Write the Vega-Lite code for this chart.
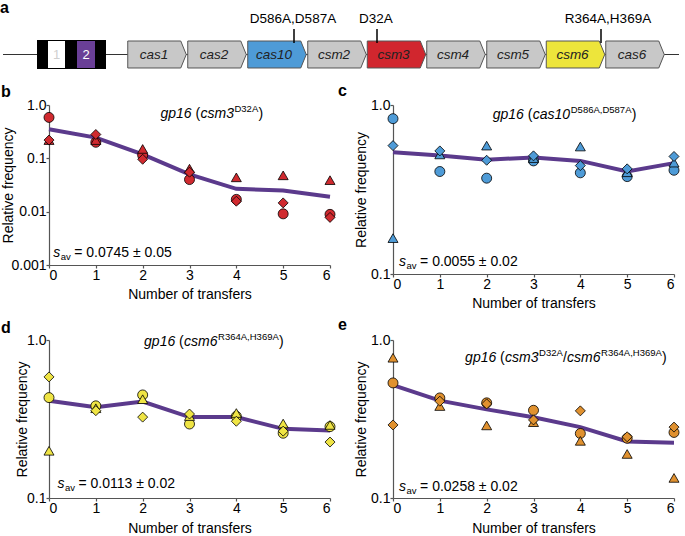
{
  "$schema": "https://vega.github.io/schema/vega-lite/v6.json",
  "padding": {"left": -3, "top": 0, "right": 0, "bottom": 0},
  "background": "white",
  "config": {
    "view": {"stroke": null},
    "font": "Liberation Sans",
    "axis": {"domainColor": "#555", "tickColor": "#555", "labelColor": "black", "titleColor": "black", "labelFontSize": 14, "titleFontSize": 14, "titleFontWeight": "normal", "grid": false, "tickSize": 3, "labelPadding": 0, "domainWidth": 1.2, "tickWidth": 1.2},
    "title": {"font": "Liberation Sans"}
  },
  "datasets": {
    "pts": [
      {"panel": "b", "transfer": 0, "rep": "circle", "value": 0.585}, {"panel": "b", "transfer": 0, "rep": "triangle", "value": 0.22}, {"panel": "b", "transfer": 0, "rep": "diamond", "value": 0.22},
      {"panel": "b", "transfer": 1, "rep": "circle", "value": 0.2}, {"panel": "b", "transfer": 1, "rep": "triangle", "value": 0.22}, {"panel": "b", "transfer": 1, "rep": "diamond", "value": 0.28},
      {"panel": "b", "transfer": 2, "rep": "circle", "value": 0.114}, {"panel": "b", "transfer": 2, "rep": "triangle", "value": 0.15}, {"panel": "b", "transfer": 2, "rep": "diamond", "value": 0.096},
      {"panel": "b", "transfer": 3, "rep": "circle", "value": 0.04}, {"panel": "b", "transfer": 3, "rep": "triangle", "value": 0.064}, {"panel": "b", "transfer": 3, "rep": "diamond", "value": 0.055},
      {"panel": "b", "transfer": 4, "rep": "circle", "value": 0.017}, {"panel": "b", "transfer": 4, "rep": "triangle", "value": 0.044}, {"panel": "b", "transfer": 4, "rep": "diamond", "value": 0.0157},
      {"panel": "b", "transfer": 5, "rep": "circle", "value": 0.0091}, {"panel": "b", "transfer": 5, "rep": "triangle", "value": 0.048}, {"panel": "b", "transfer": 5, "rep": "diamond", "value": 0.0146},
      {"panel": "b", "transfer": 6, "rep": "circle", "value": 0.0089}, {"panel": "b", "transfer": 6, "rep": "triangle", "value": 0.039}, {"panel": "b", "transfer": 6, "rep": "diamond", "value": 0.0078},
      {"panel": "c", "transfer": 0, "rep": "circle", "value": 0.83}, {"panel": "c", "transfer": 0, "rep": "triangle", "value": 0.163}, {"panel": "c", "transfer": 0, "rep": "diamond", "value": 0.575},
      {"panel": "c", "transfer": 1, "rep": "circle", "value": 0.404}, {"panel": "c", "transfer": 1, "rep": "triangle", "value": 0.51}, {"panel": "c", "transfer": 1, "rep": "diamond", "value": 0.535},
      {"panel": "c", "transfer": 2, "rep": "circle", "value": 0.369}, {"panel": "c", "transfer": 2, "rep": "triangle", "value": 0.575}, {"panel": "c", "transfer": 2, "rep": "diamond", "value": 0.471},
      {"panel": "c", "transfer": 3, "rep": "circle", "value": 0.467}, {"panel": "c", "transfer": 3, "rep": "triangle", "value": 0.485}, {"panel": "c", "transfer": 3, "rep": "diamond", "value": 0.5},
      {"panel": "c", "transfer": 4, "rep": "circle", "value": 0.397}, {"panel": "c", "transfer": 4, "rep": "triangle", "value": 0.568}, {"panel": "c", "transfer": 4, "rep": "diamond", "value": 0.438},
      {"panel": "c", "transfer": 5, "rep": "circle", "value": 0.377}, {"panel": "c", "transfer": 5, "rep": "triangle", "value": 0.4}, {"panel": "c", "transfer": 5, "rep": "diamond", "value": 0.419},
      {"panel": "c", "transfer": 6, "rep": "circle", "value": 0.411}, {"panel": "c", "transfer": 6, "rep": "triangle", "value": 0.456}, {"panel": "c", "transfer": 6, "rep": "diamond", "value": 0.496},
      {"panel": "d", "transfer": 0, "rep": "circle", "value": 0.432}, {"panel": "d", "transfer": 0, "rep": "triangle", "value": 0.199}, {"panel": "d", "transfer": 0, "rep": "diamond", "value": 0.584},
      {"panel": "d", "transfer": 1, "rep": "circle", "value": 0.383}, {"panel": "d", "transfer": 1, "rep": "triangle", "value": 0.37}, {"panel": "d", "transfer": 1, "rep": "diamond", "value": 0.357},
      {"panel": "d", "transfer": 2, "rep": "circle", "value": 0.449}, {"panel": "d", "transfer": 2, "rep": "triangle", "value": 0.422}, {"panel": "d", "transfer": 2, "rep": "diamond", "value": 0.325},
      {"panel": "d", "transfer": 3, "rep": "circle", "value": 0.294}, {"panel": "d", "transfer": 3, "rep": "triangle", "value": 0.33}, {"panel": "d", "transfer": 3, "rep": "diamond", "value": 0.34},
      {"panel": "d", "transfer": 4, "rep": "circle", "value": 0.329}, {"panel": "d", "transfer": 4, "rep": "triangle", "value": 0.345}, {"panel": "d", "transfer": 4, "rep": "diamond", "value": 0.306},
      {"panel": "d", "transfer": 5, "rep": "circle", "value": 0.257}, {"panel": "d", "transfer": 5, "rep": "triangle", "value": 0.296}, {"panel": "d", "transfer": 5, "rep": "diamond", "value": 0.265},
      {"panel": "d", "transfer": 6, "rep": "circle", "value": 0.283}, {"panel": "d", "transfer": 6, "rep": "triangle", "value": 0.29}, {"panel": "d", "transfer": 6, "rep": "diamond", "value": 0.226},
      {"panel": "e", "transfer": 0, "rep": "circle", "value": 0.535}, {"panel": "e", "transfer": 0, "rep": "triangle", "value": 0.772}, {"panel": "e", "transfer": 0, "rep": "diamond", "value": 0.29},
      {"panel": "e", "transfer": 1, "rep": "circle", "value": 0.43}, {"panel": "e", "transfer": 1, "rep": "triangle", "value": 0.382}, {"panel": "e", "transfer": 1, "rep": "diamond", "value": 0.41},
      {"panel": "e", "transfer": 2, "rep": "circle", "value": 0.4}, {"panel": "e", "transfer": 2, "rep": "triangle", "value": 0.288}, {"panel": "e", "transfer": 2, "rep": "diamond", "value": 0.394},
      {"panel": "e", "transfer": 3, "rep": "circle", "value": 0.359}, {"panel": "e", "transfer": 3, "rep": "triangle", "value": 0.302}, {"panel": "e", "transfer": 3, "rep": "diamond", "value": 0.312},
      {"panel": "e", "transfer": 4, "rep": "circle", "value": 0.256}, {"panel": "e", "transfer": 4, "rep": "triangle", "value": 0.23}, {"panel": "e", "transfer": 4, "rep": "diamond", "value": 0.356},
      {"panel": "e", "transfer": 5, "rep": "circle", "value": 0.239}, {"panel": "e", "transfer": 5, "rep": "triangle", "value": 0.19}, {"panel": "e", "transfer": 5, "rep": "diamond", "value": 0.244},
      {"panel": "e", "transfer": 6, "rep": "circle", "value": 0.26}, {"panel": "e", "transfer": 6, "rep": "triangle", "value": 0.134}, {"panel": "e", "transfer": 6, "rep": "diamond", "value": 0.281}
    ],
    "avg": [
      {"panel": "b", "transfer": 0, "value": 0.352}, {"panel": "b", "transfer": 1, "value": 0.245}, {"panel": "b", "transfer": 2, "value": 0.119}, {"panel": "b", "transfer": 3, "value": 0.05}, {"panel": "b", "transfer": 4, "value": 0.0268}, {"panel": "b", "transfer": 5, "value": 0.025}, {"panel": "b", "transfer": 6, "value": 0.019},
      {"panel": "c", "transfer": 0, "value": 0.525}, {"panel": "c", "transfer": 1, "value": 0.502}, {"panel": "c", "transfer": 2, "value": 0.475}, {"panel": "c", "transfer": 3, "value": 0.489}, {"panel": "c", "transfer": 4, "value": 0.467}, {"panel": "c", "transfer": 5, "value": 0.404}, {"panel": "c", "transfer": 6, "value": 0.453},
      {"panel": "d", "transfer": 0, "value": 0.412}, {"panel": "d", "transfer": 1, "value": 0.376}, {"panel": "d", "transfer": 2, "value": 0.408}, {"panel": "d", "transfer": 3, "value": 0.325}, {"panel": "d", "transfer": 4, "value": 0.325}, {"panel": "d", "transfer": 5, "value": 0.274}, {"panel": "d", "transfer": 6, "value": 0.267},
      {"panel": "e", "transfer": 0, "value": 0.518}, {"panel": "e", "transfer": 1, "value": 0.413}, {"panel": "e", "transfer": 2, "value": 0.364}, {"panel": "e", "transfer": 3, "value": 0.324}, {"panel": "e", "transfer": 4, "value": 0.281}, {"panel": "e", "transfer": 5, "value": 0.228}, {"panel": "e", "transfer": 6, "value": 0.224}
    ],
    "genes": [
      {"gene": "cas1", "center": 160, "type": "other"}, {"gene": "cas2", "center": 220, "type": "other"}, {"gene": "cas10", "center": 280, "type": "cas10"},
      {"gene": "csm2", "center": 340, "type": "other"}, {"gene": "csm3", "center": 399.5, "type": "csm3"}, {"gene": "csm4", "center": 459, "type": "other"},
      {"gene": "csm5", "center": 519, "type": "other"}, {"gene": "csm6", "center": 578.5, "type": "csm6"}, {"gene": "cas6", "center": 638, "type": "other"}
    ],
    "mutations": [
      {"gene": "cas10", "label": "D586A,D587A", "site": 297, "labelpos": 296},
      {"gene": "csm3", "label": "D32A", "site": 380, "labelpos": 379},
      {"gene": "csm6", "label": "R364A,H369A", "site": 604, "labelpos": 611}
    ],
    "backbone": [{"start": 6, "end": 682}],
    "array": [{"start": 40, "end": 109}],
    "spacers": [{"spacer": "1", "start": 51, "end": 68, "center": 59.5}, {"spacer": "2", "start": 80, "end": 98, "center": 89}]
  },
  "columns": 2,
  "bounds": "flush",
  "align": "each",
  "spacing": {"row": 66, "column": 63},
  "concat": [
    {
      "width": 281, "height": 39,
      "resolve": {"scale": {"color": "independent", "fill": "independent"}},
      "layer": [
        {"data": {"values": [{"start": 0, "end": 685}]}, "mark": {"type": "rule", "opacity": 0, "strokeWidth": 0.1},
         "encoding": {"x": {"field": "start", "type": "quantitative", "scale": {"domain": [52, 333], "nice": false, "zero": false}, "axis": null}, "x2": {"field": "end"}, "y": {"datum": 0, "scale": {"domain": [0, 39], "reverse": true, "nice": false, "zero": false}, "axis": null}}},
        {"data": {"name": "backbone"}, "mark": {"type": "rule", "color": "#333", "strokeWidth": 1.2},
         "encoding": {"x": {"field": "start", "type": "quantitative", "scale": {"domain": [52, 333], "nice": false, "zero": false}, "axis": null}, "x2": {"field": "end"}, "y": {"datum": 54.5, "scale": {"domain": [0, 39], "reverse": true, "nice": false, "zero": false}, "axis": null}}},
        {"data": {"name": "array"}, "mark": {"type": "rect", "color": "black"},
         "encoding": {"x": {"field": "start", "type": "quantitative", "scale": {"domain": [52, 333], "nice": false, "zero": false}, "axis": null}, "x2": {"field": "end"}, "y": {"datum": 40, "scale": {"domain": [0, 39], "reverse": true, "nice": false, "zero": false}, "axis": null}, "y2": {"datum": 69}}},
        {"data": {"name": "spacers"}, "mark": {"type": "rect"},
         "encoding": {"x": {"field": "start", "type": "quantitative", "scale": {"domain": [52, 333], "nice": false, "zero": false}, "axis": null}, "x2": {"field": "end"}, "y": {"datum": 41, "scale": {"domain": [0, 39], "reverse": true, "nice": false, "zero": false}, "axis": null}, "y2": {"datum": 68},
           "color": {"field": "spacer", "type": "nominal", "scale": {"domain": ["1", "2"], "range": ["#ffffff", "#6a3f97"]}, "legend": null}}},
        {"data": {"name": "spacers"}, "mark": {"type": "text", "fontSize": 13, "baseline": "middle", "align": "center"},
         "encoding": {"x": {"field": "center", "type": "quantitative", "scale": {"domain": [52, 333], "nice": false, "zero": false}, "axis": null}, "y": {"datum": 55, "scale": {"domain": [0, 39], "reverse": true, "nice": false, "zero": false}, "axis": null}, "text": {"field": "spacer"},
           "fill": {"field": "spacer", "type": "nominal", "scale": {"domain": ["1", "2"], "range": ["#cfcfcf", "#ffffff"]}, "legend": null}}},
        {"data": {"name": "genes"}, "mark": {"type": "point", "shape": "M-1,-0.4615L0.812,-0.4615L1,0L0.812,0.4615L-1,0.4615Z", "size": 3422, "opacity": 1, "filled": true, "stroke": "#555", "strokeWidth": 1},
         "encoding": {"x": {"field": "center", "type": "quantitative", "scale": {"domain": [52, 333], "nice": false, "zero": false}, "axis": null}, "y": {"datum": 54.5, "scale": {"domain": [0, 39], "reverse": true, "nice": false, "zero": false}, "axis": null},
           "color": {"field": "type", "type": "nominal", "scale": {"domain": ["other", "cas10", "csm3", "csm6"], "range": ["#c8c8c8", "#4e9bd7", "#d1262e", "#ede53b"]}, "legend": null}}},
        {"data": {"name": "genes"}, "mark": {"type": "text", "fontSize": 13.5, "fontStyle": "italic", "baseline": "middle", "align": "center", "dx": -3, "color": "#222"},
         "encoding": {"x": {"field": "center", "type": "quantitative", "scale": {"domain": [52, 333], "nice": false, "zero": false}, "axis": null}, "y": {"datum": 55, "scale": {"domain": [0, 39], "reverse": true, "nice": false, "zero": false}, "axis": null}, "text": {"field": "gene"}}},
        {"data": {"name": "mutations"}, "mark": {"type": "rule", "color": "black", "strokeWidth": 1.5},
         "encoding": {"x": {"field": "site", "type": "quantitative", "scale": {"domain": [52, 333], "nice": false, "zero": false}, "axis": null}, "y": {"datum": 29, "scale": {"domain": [0, 39], "reverse": true, "nice": false, "zero": false}, "axis": null}, "y2": {"datum": 43}}},
        {"data": {"name": "mutations"}, "mark": {"type": "text", "fontSize": 13.5, "baseline": "alphabetic", "align": "center", "color": "black"},
         "encoding": {"x": {"field": "labelpos", "type": "quantitative", "scale": {"domain": [52, 333], "nice": false, "zero": false}, "axis": null}, "y": {"datum": 23, "scale": {"domain": [0, 39], "reverse": true, "nice": false, "zero": false}, "axis": null}, "text": {"field": "label"}}},
        {"data": {"values": [{"letter": "a"}]}, "mark": {"type": "text", "fontSize": 16, "fontWeight": "bold", "baseline": "alphabetic", "align": "left", "color": "black"},
         "encoding": {"x": {"datum": 3, "type": "quantitative", "scale": {"domain": [52, 333], "nice": false, "zero": false}, "axis": null}, "y": {"datum": 13, "scale": {"domain": [0, 39], "reverse": true, "nice": false, "zero": false}, "axis": null}, "text": {"field": "letter"}}}
      ]
    },
    {"width": 281, "height": 39, "data": {"values": []}, "mark": "point"},
    {
      "width": 281, "height": 160,
      "layer": [
        {"data": {"name": "avg"}, "transform": [{"filter": "datum.panel == 'b'"}], "mark": {"type": "line", "color": "#5b3a8c", "strokeWidth": 4},
         "encoding": {
           "x": {"field": "transfer", "type": "quantitative", "scale": {"domain": [0, 6], "nice": false, "zero": false}, "axis": {"values": [0, 1, 2, 3, 4, 5, 6], "format": "d", "labelAngle": 0, "title": "Number of transfers", "titlePadding": 5}},
           "y": {"field": "value", "type": "quantitative", "scale": {"type": "log", "domain": [0.001, 1], "nice": false}, "axis": {"values": [0.001, 0.01, 0.1, 1], "labelExpr": "datum.value >= 1 ? '1.0' : toString(datum.value)", "title": "Relative frequency", "titleX": -41, "titleY": 80, "titleAngle": 270, "titleBaseline": "middle", "titleAlign": "center"}}}},
        {"data": {"name": "pts"}, "transform": [{"filter": "datum.panel == 'b'"}], "mark": {"type": "point", "filled": true, "fill": "#d02a2f", "stroke": "black", "strokeWidth": 0.8, "size": 100, "opacity": 1},
         "encoding": {"x": {"field": "transfer", "type": "quantitative"}, "y": {"field": "value", "type": "quantitative"},
           "shape": {"field": "rep", "type": "nominal", "scale": {"domain": ["circle", "triangle", "diamond"], "range": ["circle", "triangle-up", "diamond"]}, "legend": null}}},
        {"data": {"values": [{}]}, "mark": {"type": "text", "text": "b", "fontSize": 16, "fontWeight": "bold", "align": "left", "baseline": "alphabetic"}, "encoding": {"x": {"datum": -1.025}, "y": {"datum": 1.41}}},
        {"data": {"values": [{}]}, "mark": {"type": "text", "text": "gp16", "fontSize": 14, "fontStyle": "italic", "align": "left", "baseline": "alphabetic"}, "encoding": {"x": {"datum": 2.38}, "y": {"datum": 0.56}}},
        {"data": {"values": [{}]}, "mark": {"type": "text", "text": "(", "fontSize": 14, "align": "left", "baseline": "alphabetic", "dx": 35}, "encoding": {"x": {"datum": 2.38}, "y": {"datum": 0.56}}},
        {"data": {"values": [{}]}, "mark": {"type": "text", "text": "csm3", "fontSize": 14, "fontStyle": "italic", "align": "left", "baseline": "alphabetic", "dx": 40}, "encoding": {"x": {"datum": 2.38}, "y": {"datum": 0.56}}},
        {"data": {"values": [{}]}, "mark": {"type": "text", "text": "D32A", "fontSize": 9.5, "align": "left", "baseline": "alphabetic", "dx": 74, "dy": -6}, "encoding": {"x": {"datum": 2.38}, "y": {"datum": 0.56}}},
        {"data": {"values": [{}]}, "mark": {"type": "text", "text": ")", "fontSize": 14, "align": "left", "baseline": "alphabetic", "dx": 98}, "encoding": {"x": {"datum": 2.38}, "y": {"datum": 0.56}}},
        {"data": {"values": [{}]}, "mark": {"type": "text", "text": "s", "fontSize": 14, "fontStyle": "italic", "align": "left", "baseline": "alphabetic"}, "encoding": {"x": {"datum": 0.09}, "y": {"datum": 0.00144}}},
        {"data": {"values": [{}]}, "mark": {"type": "text", "text": "av", "fontSize": 9.5, "align": "left", "baseline": "alphabetic", "dx": 7.5, "dy": 3}, "encoding": {"x": {"datum": 0.09}, "y": {"datum": 0.00144}}},
        {"data": {"values": [{}]}, "mark": {"type": "text", "text": "= 0.0745 ± 0.05", "fontSize": 14, "align": "left", "baseline": "alphabetic", "dx": 21}, "encoding": {"x": {"datum": 0.09}, "y": {"datum": 0.00144}}}
      ]
    },
    {
      "width": 281, "height": 169,
      "layer": [
        {"data": {"name": "avg"}, "transform": [{"filter": "datum.panel == 'c'"}], "mark": {"type": "line", "color": "#5b3a8c", "strokeWidth": 4},
         "encoding": {
           "x": {"field": "transfer", "type": "quantitative", "scale": {"domain": [0, 6], "nice": false, "zero": false}, "axis": {"values": [0, 1, 2, 3, 4, 5, 6], "format": "d", "labelAngle": 0, "title": "Number of transfers", "titlePadding": 5}},
           "y": {"field": "value", "type": "quantitative", "scale": {"type": "log", "domain": [0.1, 1], "nice": false}, "axis": {"values": [0.1, 1], "labelExpr": "datum.value >= 1 ? '1.0' : toString(datum.value)", "title": "Relative frequency", "titleX": -32, "titleY": 84.5, "titleAngle": 270, "titleBaseline": "middle", "titleAlign": "center"}}}},
        {"data": {"name": "pts"}, "transform": [{"filter": "datum.panel == 'c'"}], "mark": {"type": "point", "filled": true, "fill": "#4e9bd7", "stroke": "black", "strokeWidth": 0.8, "size": 100, "opacity": 1},
         "encoding": {"x": {"field": "transfer", "type": "quantitative"}, "y": {"field": "value", "type": "quantitative"},
           "shape": {"field": "rep", "type": "nominal", "scale": {"domain": ["circle", "triangle", "diamond"], "range": ["circle", "triangle-up", "diamond"]}, "legend": null}}},
        {"data": {"values": [{}]}, "mark": {"type": "text", "text": "c", "fontSize": 16, "fontWeight": "bold", "align": "left", "baseline": "alphabetic"}, "encoding": {"x": {"datum": -1.175}, "y": {"datum": 1.13}}},
        {"data": {"values": [{}]}, "mark": {"type": "text", "text": "gp16", "fontSize": 14, "fontStyle": "italic", "align": "left", "baseline": "alphabetic"}, "encoding": {"x": {"datum": 2.13}, "y": {"datum": 0.83}}},
        {"data": {"values": [{}]}, "mark": {"type": "text", "text": "(", "fontSize": 14, "align": "left", "baseline": "alphabetic", "dx": 35}, "encoding": {"x": {"datum": 2.13}, "y": {"datum": 0.83}}},
        {"data": {"values": [{}]}, "mark": {"type": "text", "text": "cas10", "fontSize": 14, "fontStyle": "italic", "align": "left", "baseline": "alphabetic", "dx": 40}, "encoding": {"x": {"datum": 2.13}, "y": {"datum": 0.83}}},
        {"data": {"values": [{}]}, "mark": {"type": "text", "text": "D586A,D587A", "fontSize": 9.5, "align": "left", "baseline": "alphabetic", "dx": 78, "dy": -6}, "encoding": {"x": {"datum": 2.13}, "y": {"datum": 0.83}}},
        {"data": {"values": [{}]}, "mark": {"type": "text", "text": ")", "fontSize": 14, "align": "left", "baseline": "alphabetic", "dx": 139}, "encoding": {"x": {"datum": 2.13}, "y": {"datum": 0.83}}},
        {"data": {"values": [{}]}, "mark": {"type": "text", "text": "s", "fontSize": 14, "fontStyle": "italic", "align": "left", "baseline": "alphabetic"}, "encoding": {"x": {"datum": 0.13}, "y": {"datum": 0.111}}},
        {"data": {"values": [{}]}, "mark": {"type": "text", "text": "av", "fontSize": 9.5, "align": "left", "baseline": "alphabetic", "dx": 7.5, "dy": 3}, "encoding": {"x": {"datum": 0.13}, "y": {"datum": 0.111}}},
        {"data": {"values": [{}]}, "mark": {"type": "text", "text": "= 0.0055 ± 0.02", "fontSize": 14, "align": "left", "baseline": "alphabetic", "dx": 21}, "encoding": {"x": {"datum": 0.13}, "y": {"datum": 0.111}}}
      ]
    },
    {
      "width": 281, "height": 158,
      "layer": [
        {"data": {"name": "avg"}, "transform": [{"filter": "datum.panel == 'd'"}], "mark": {"type": "line", "color": "#5b3a8c", "strokeWidth": 4},
         "encoding": {
           "x": {"field": "transfer", "type": "quantitative", "scale": {"domain": [0, 6], "nice": false, "zero": false}, "axis": {"values": [0, 1, 2, 3, 4, 5, 6], "format": "d", "labelAngle": 0, "title": "Number of transfers", "titlePadding": 6}},
           "y": {"field": "value", "type": "quantitative", "scale": {"type": "log", "domain": [0.1, 1], "nice": false}, "axis": {"values": [0.1, 1], "labelExpr": "datum.value >= 1 ? '1.0' : toString(datum.value)", "title": "Relative frequency", "titleX": -27, "titleY": 79, "titleAngle": 270, "titleBaseline": "middle", "titleAlign": "center"}}}},
        {"data": {"name": "pts"}, "transform": [{"filter": "datum.panel == 'd'"}], "mark": {"type": "point", "filled": true, "fill": "#efe444", "stroke": "black", "strokeWidth": 0.8, "size": 100, "opacity": 1},
         "encoding": {"x": {"field": "transfer", "type": "quantitative"}, "y": {"field": "value", "type": "quantitative"},
           "shape": {"field": "rep", "type": "nominal", "scale": {"domain": ["circle", "triangle", "diamond"], "range": ["circle", "triangle-up", "diamond"]}, "legend": null}}},
        {"data": {"values": [{}]}, "mark": {"type": "text", "text": "d", "fontSize": 16, "fontWeight": "bold", "align": "left", "baseline": "alphabetic"}, "encoding": {"x": {"datum": -1.025}, "y": {"datum": 1.107}}},
        {"data": {"values": [{}]}, "mark": {"type": "text", "text": "gp16", "fontSize": 14, "fontStyle": "italic", "align": "left", "baseline": "alphabetic"}, "encoding": {"x": {"datum": 2.03}, "y": {"datum": 0.91}}},
        {"data": {"values": [{}]}, "mark": {"type": "text", "text": "(", "fontSize": 14, "align": "left", "baseline": "alphabetic", "dx": 35}, "encoding": {"x": {"datum": 2.03}, "y": {"datum": 0.91}}},
        {"data": {"values": [{}]}, "mark": {"type": "text", "text": "csm6", "fontSize": 14, "fontStyle": "italic", "align": "left", "baseline": "alphabetic", "dx": 40}, "encoding": {"x": {"datum": 2.03}, "y": {"datum": 0.91}}},
        {"data": {"values": [{}]}, "mark": {"type": "text", "text": "R364A,H369A", "fontSize": 9.5, "align": "left", "baseline": "alphabetic", "dx": 74, "dy": -6}, "encoding": {"x": {"datum": 2.03}, "y": {"datum": 0.91}}},
        {"data": {"values": [{}]}, "mark": {"type": "text", "text": ")", "fontSize": 14, "align": "left", "baseline": "alphabetic", "dx": 135}, "encoding": {"x": {"datum": 2.03}, "y": {"datum": 0.91}}},
        {"data": {"values": [{}]}, "mark": {"type": "text", "text": "s", "fontSize": 14, "fontStyle": "italic", "align": "left", "baseline": "alphabetic"}, "encoding": {"x": {"datum": 0.18}, "y": {"datum": 0.116}}},
        {"data": {"values": [{}]}, "mark": {"type": "text", "text": "av", "fontSize": 9.5, "align": "left", "baseline": "alphabetic", "dx": 7.5, "dy": 3}, "encoding": {"x": {"datum": 0.18}, "y": {"datum": 0.116}}},
        {"data": {"values": [{}]}, "mark": {"type": "text", "text": "= 0.0113 ± 0.02", "fontSize": 14, "align": "left", "baseline": "alphabetic", "dx": 21}, "encoding": {"x": {"datum": 0.18}, "y": {"datum": 0.116}}}
      ]
    },
    {
      "width": 281, "height": 158,
      "layer": [
        {"data": {"name": "avg"}, "transform": [{"filter": "datum.panel == 'e'"}], "mark": {"type": "line", "color": "#5b3a8c", "strokeWidth": 4},
         "encoding": {
           "x": {"field": "transfer", "type": "quantitative", "scale": {"domain": [0, 6], "nice": false, "zero": false}, "axis": {"values": [0, 1, 2, 3, 4, 5, 6], "format": "d", "labelAngle": 0, "title": "Number of transfers", "titlePadding": 6}},
           "y": {"field": "value", "type": "quantitative", "scale": {"type": "log", "domain": [0.1, 1], "nice": false}, "axis": {"values": [0.1, 1], "labelExpr": "datum.value >= 1 ? '1.0' : toString(datum.value)", "title": "Relative frequency", "titleX": -32, "titleY": 79, "titleAngle": 270, "titleBaseline": "middle", "titleAlign": "center"}}}},
        {"data": {"name": "pts"}, "transform": [{"filter": "datum.panel == 'e'"}], "mark": {"type": "point", "filled": true, "fill": "#e0912f", "stroke": "black", "strokeWidth": 0.8, "size": 100, "opacity": 1},
         "encoding": {"x": {"field": "transfer", "type": "quantitative"}, "y": {"field": "value", "type": "quantitative"},
           "shape": {"field": "rep", "type": "nominal", "scale": {"domain": ["circle", "triangle", "diamond"], "range": ["circle", "triangle-up", "diamond"]}, "legend": null}}},
        {"data": {"values": [{}]}, "mark": {"type": "text", "text": "e", "fontSize": 16, "fontWeight": "bold", "align": "left", "baseline": "alphabetic"}, "encoding": {"x": {"datum": -1.175}, "y": {"datum": 1.157}}},
        {"data": {"values": [{}]}, "mark": {"type": "text", "text": "gp16", "fontSize": 14, "fontStyle": "italic", "align": "left", "baseline": "alphabetic"}, "encoding": {"x": {"datum": 1.54}, "y": {"datum": 0.73}}},
        {"data": {"values": [{}]}, "mark": {"type": "text", "text": "(", "fontSize": 14, "align": "left", "baseline": "alphabetic", "dx": 35}, "encoding": {"x": {"datum": 1.54}, "y": {"datum": 0.73}}},
        {"data": {"values": [{}]}, "mark": {"type": "text", "text": "csm3", "fontSize": 14, "fontStyle": "italic", "align": "left", "baseline": "alphabetic", "dx": 40}, "encoding": {"x": {"datum": 1.54}, "y": {"datum": 0.73}}},
        {"data": {"values": [{}]}, "mark": {"type": "text", "text": "D32A", "fontSize": 9.5, "align": "left", "baseline": "alphabetic", "dx": 74, "dy": -6}, "encoding": {"x": {"datum": 1.54}, "y": {"datum": 0.73}}},
        {"data": {"values": [{}]}, "mark": {"type": "text", "text": "/", "fontSize": 14, "align": "left", "baseline": "alphabetic", "dx": 98}, "encoding": {"x": {"datum": 1.54}, "y": {"datum": 0.73}}},
        {"data": {"values": [{}]}, "mark": {"type": "text", "text": "csm6", "fontSize": 14, "fontStyle": "italic", "align": "left", "baseline": "alphabetic", "dx": 102}, "encoding": {"x": {"datum": 1.54}, "y": {"datum": 0.73}}},
        {"data": {"values": [{}]}, "mark": {"type": "text", "text": "R364A,H369A", "fontSize": 9.5, "align": "left", "baseline": "alphabetic", "dx": 136, "dy": -6}, "encoding": {"x": {"datum": 1.54}, "y": {"datum": 0.73}}},
        {"data": {"values": [{}]}, "mark": {"type": "text", "text": ")", "fontSize": 14, "align": "left", "baseline": "alphabetic", "dx": 197}, "encoding": {"x": {"datum": 1.54}, "y": {"datum": 0.73}}},
        {"data": {"values": [{}]}, "mark": {"type": "text", "text": "s", "fontSize": 14, "fontStyle": "italic", "align": "left", "baseline": "alphabetic"}, "encoding": {"x": {"datum": 0.13}, "y": {"datum": 0.111}}},
        {"data": {"values": [{}]}, "mark": {"type": "text", "text": "av", "fontSize": 9.5, "align": "left", "baseline": "alphabetic", "dx": 7.5, "dy": 3}, "encoding": {"x": {"datum": 0.13}, "y": {"datum": 0.111}}},
        {"data": {"values": [{}]}, "mark": {"type": "text", "text": "= 0.0258 ± 0.02", "fontSize": 14, "align": "left", "baseline": "alphabetic", "dx": 21}, "encoding": {"x": {"datum": 0.13}, "y": {"datum": 0.111}}}
      ]
    }
  ]
}
